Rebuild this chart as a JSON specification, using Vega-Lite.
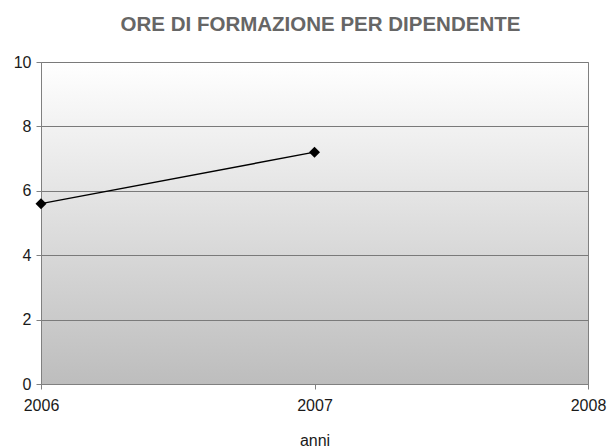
{
  "$schema": "https://vega.github.io/schema/vega-lite/v6.json",
  "width": 547,
  "height": 322,
  "autosize": {"type": "none"},
  "padding": {"left": 41, "top": 62, "right": 19, "bottom": 63},
  "background": "white",
  "title": {
    "text": "ORE DI FORMAZIONE PER DIPENDENTE",
    "font": "Liberation Sans",
    "fontSize": 20.5,
    "fontWeight": "bold",
    "color": "#666666",
    "offset": 19,
    "dx": 6
  },
  "config": {
    "view": {
      "stroke": "#808080",
      "strokeWidth": 1,
      "fill": {
        "gradient": "linear",
        "x1": 0, "y1": 0, "x2": 0, "y2": 1,
        "stops": [
          {"offset": 0, "color": "#ffffff"},
          {"offset": 1, "color": "#bdbdbd"}
        ]
      }
    },
    "axis": {
      "labelFont": "Liberation Sans",
      "labelFontSize": 16,
      "labelColor": "#1a1a1a",
      "titleFont": "Liberation Sans",
      "titleFontSize": 16,
      "titleFontWeight": "normal",
      "titleColor": "#1a1a1a",
      "domainColor": "#808080",
      "tickColor": "#808080",
      "gridColor": "#7a7a7a",
      "gridOpacity": 1,
      "tickSize": 5,
      "labelOverlap": false
    }
  },
  "data": {
    "values": [
      {"anno": 2006, "ore": 5.6},
      {"anno": 2007, "ore": 7.2}
    ]
  },
  "mark": {
    "type": "line",
    "color": "black",
    "strokeWidth": 1.4,
    "point": {"shape": "diamond", "size": 120, "filled": true, "color": "black"}
  },
  "encoding": {
    "x": {
      "field": "anno",
      "type": "quantitative",
      "scale": {"domain": [2006, 2008], "nice": false, "zero": false},
      "axis": {
        "title": "anni",
        "tickCount": 2,
        "format": "d",
        "grid": false,
        "labelPadding": 8,
        "titlePadding": 19,
        "labelFlush": false
      }
    },
    "y": {
      "field": "ore",
      "type": "quantitative",
      "scale": {"domain": [0, 10], "nice": false},
      "axis": {
        "title": null,
        "values": [0, 2, 4, 6, 8, 10],
        "grid": true,
        "labelPadding": 5
      }
    }
  }
}
